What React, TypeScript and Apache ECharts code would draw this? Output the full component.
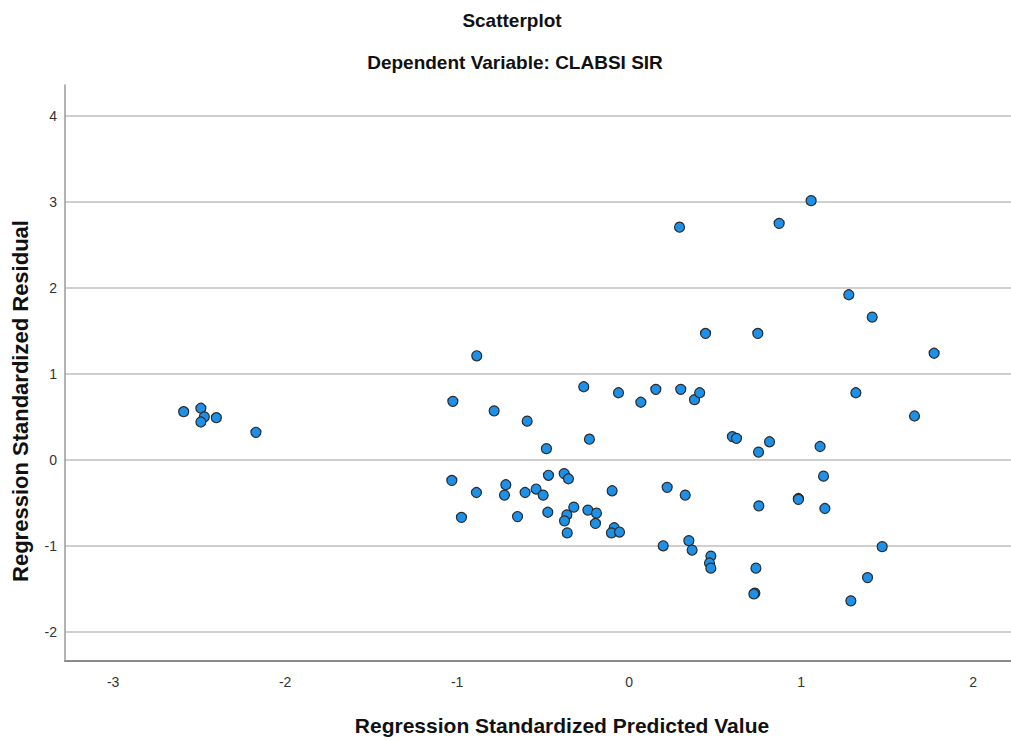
import React, { useEffect, useRef } from "react";
import * as echarts from "echarts";

const titleText = "Scatterplot";
const subtitleText = "Dependent Variable: CLABSI SIR";
const xAxisTitle = "Regression Standardized Predicted Value";
const yAxisTitle = "Regression Standardized Residual";

// Regression standardized predicted values (x)
const predicted: number[] = [
  -2.59, -2.49, -2.47, -2.49, -2.4, -2.17,
  -0.886, -1.025, -0.785, -0.593, -0.481, -0.264, -0.231, -0.062, 0.068, 0.155, 0.3, 0.38, 0.41,
  -1.031, -0.888, -0.975, -0.717, -0.725, -0.649, -0.605, -0.541, -0.5, -0.469, -0.473, -0.378,
  -0.353, -0.322, -0.362, -0.376, -0.36, -0.24, -0.19, -0.196, -0.099, -0.087, -0.103, -0.056,
  0.221, 0.326, 0.198, 0.347, 0.366, 0.475, 0.467, 0.475,
  1.058, 0.293, 0.872, 1.277, 1.413, 0.444, 0.748, 1.773, 1.318, 1.659,
  0.6, 0.624, 0.816, 0.752, 1.11, 1.13, 0.754, 0.984, 0.984, 1.138, 0.737, 0.731, 0.725, 1.471,
  1.386, 1.289,
];

// Regression standardized residuals (y)
const residual: number[] = [
  0.56, 0.6, 0.5, 0.44, 0.49, 0.32,
  1.21, 0.68, 0.57, 0.45, 0.13, 0.85, 0.24, 0.78, 0.67, 0.82, 0.82, 0.7, 0.78,
  -0.24, -0.38, -0.67, -0.29, -0.41, -0.66, -0.38, -0.34, -0.41, -0.18, -0.61, -0.16,
  -0.22, -0.55, -0.64, -0.71, -0.85, -0.585, -0.62, -0.74, -0.36, -0.79, -0.85, -0.84,
  -0.32, -0.41, -1.0, -0.94, -1.05, -1.12, -1.2, -1.26,
  3.015, 2.706, 2.75, 1.92, 1.66, 1.47, 1.47, 1.24, 0.78, 0.51,
  0.27, 0.25, 0.21, 0.09, 0.155, -0.19, -0.535, -0.45, -0.46, -0.566, -1.26, -1.55, -1.56, -1.01,
  -1.37, -1.64,
];

const xMin = -3.28;
const xMax = 2.22;
const yMin = -2.34;
const yMax = 4.36;

const FONT = "'Liberation Sans', Arial, sans-serif";

export default function App() {
  const ref = useRef<HTMLDivElement>(null);

  useEffect(() => {
    if (!ref.current) return;
    const chart = echarts.init(ref.current, undefined, { renderer: "svg" });
    const data = predicted.map((x, i) => [x, residual[i]]);
    chart.setOption({
      animation: false,
      backgroundColor: "#ffffff",
      grid: { left: 65, right: 0, top: 85, bottom: 79, containLabel: false },
      xAxis: {
        type: "value",
        min: xMin,
        max: xMax,
        axisLine: { show: true, onZero: false, lineStyle: { color: "#8c8c8c", width: 2 } },
        axisTick: { show: false },
        splitLine: { show: false },
        axisLabel: {
          showMinLabel: false,
          showMaxLabel: false,
          margin: 14,
          color: "#333",
          fontSize: 14,
          fontFamily: FONT,
        },
      },
      yAxis: {
        type: "value",
        min: yMin,
        max: yMax,
        axisLine: { show: true, onZero: false, lineStyle: { color: "#9a9a9a", width: 1.5 } },
        axisTick: { show: false },
        splitLine: {
          show: true,
          showMinLine: false,
          showMaxLine: false,
          lineStyle: { color: "#cfcfcf", width: 2 },
        },
        axisLabel: {
          showMinLabel: false,
          showMaxLabel: false,
          margin: 8,
          color: "#333",
          fontSize: 14,
          fontFamily: FONT,
        },
      },
      series: [
        {
          type: "scatter",
          data,
          symbol: "circle",
          symbolSize: 10,
          itemStyle: { color: "#1d90e8", borderColor: "#2b2b2b", borderWidth: 1.2, opacity: 1 },
        },
      ],
      graphic: [
        {
          type: "text",
          x: 512,
          y: 20,
          style: {
            text: titleText,
            font: `bold 19px ${FONT}`,
            fill: "#111",
            textAlign: "center",
            textVerticalAlign: "middle",
          },
        },
        {
          type: "text",
          x: 515,
          y: 62,
          style: {
            text: subtitleText,
            font: `bold 19px ${FONT}`,
            fill: "#111",
            textAlign: "center",
            textVerticalAlign: "middle",
          },
        },
        {
          type: "text",
          x: 562,
          y: 725,
          style: {
            text: xAxisTitle,
            font: `bold 21px ${FONT}`,
            fill: "#111",
            textAlign: "center",
            textVerticalAlign: "middle",
          },
        },
        {
          type: "text",
          x: 20,
          y: 401,
          rotation: Math.PI / 2,
          style: {
            text: yAxisTitle,
            font: `bold 22px ${FONT}`,
            fill: "#111",
            textAlign: "center",
            textVerticalAlign: "middle",
          },
        },
      ],
    });
    return () => chart.dispose();
  }, []);

  return (
    <div
      ref={ref}
      style={{ position: "absolute", left: 0, top: 0, width: 1011, height: 740 }}
    />
  );
}
